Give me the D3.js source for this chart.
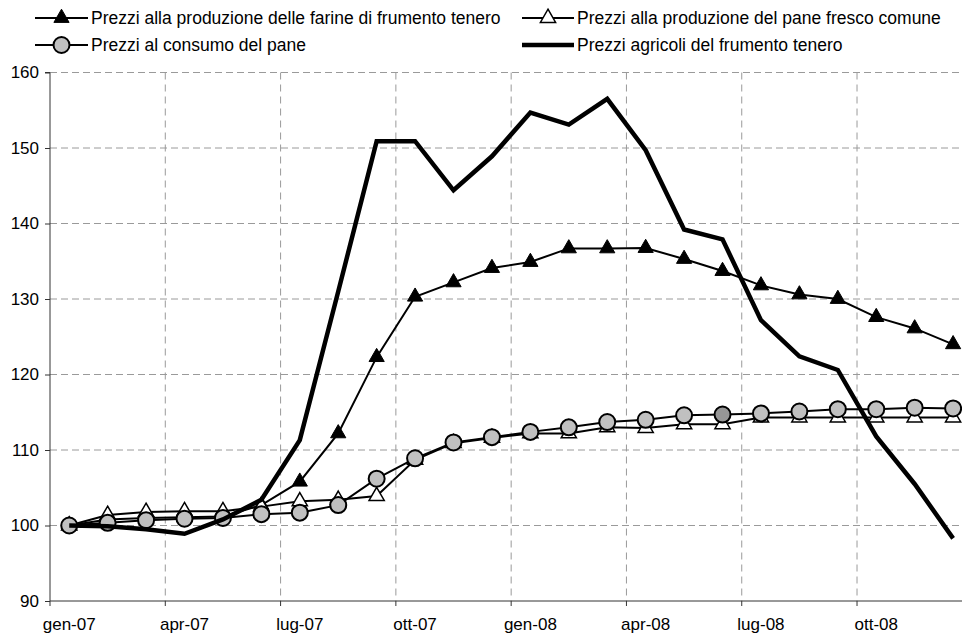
<!DOCTYPE html>
<html>
<head>
<meta charset="utf-8">
<script src="https://cdn.jsdelivr.net/npm/d3@7"></script>
<style>
  html, body { margin: 0; padding: 0; background: #fff; }
  svg { display: block; font-family: "Liberation Sans", Arial, sans-serif; }
</style>
</head>
<body>
<svg id="chart" width="962" height="633"></svg>
<script>
// ---- data ----
const months = ["gen-07","feb-07","mar-07","apr-07","mag-07","giu-07","lug-07","ago-07","set-07","ott-07","nov-07","dic-07",
                "gen-08","feb-08","mar-08","apr-08","mag-08","giu-08","lug-08","ago-08","set-08","ott-08","nov-08","dic-08"];
const tickLabels = ["gen-07","apr-07","lug-07","ott-07","gen-08","apr-08","lug-08","ott-08"];
const yTicks = [90, 100, 110, 120, 130, 140, 150, 160];

const seriesNames = [
  "Prezzi alla produzione delle farine di frumento tenero",
  "Prezzi alla produzione del pane fresco comune",
  "Prezzi al consumo del pane",
  "Prezzi agricoli del frumento tenero"
];
const farine = [100, 100.8, 101.0, 101.1, 101.2, 102.7, 105.8, 112.2, 122.3, 130.3, 132.2, 134.1,
                134.9, 136.7, 136.7, 136.75, 135.3, 133.7, 131.8, 130.6, 130.0, 127.6, 126.1, 124.0];
const paneProd = [100, 101.4, 101.8, 101.9, 101.9, 102.5, 103.2, 103.4, 103.9, 108.7, 110.9, 111.6,
                  112.2, 112.2, 113.0, 112.9, 113.4, 113.4, 114.3, 114.3, 114.3, 114.3, 114.3, 114.3];
const paneCons = [100, 100.35, 100.7, 100.9, 101.0, 101.5, 101.7, 102.7, 106.2, 108.9, 111.0, 111.7,
                  112.4, 113.0, 113.7, 114.0, 114.6, 114.7, 114.85, 115.1, 115.4, 115.4, 115.6, 115.5];
const frumento = [100, 99.9, 99.5, 98.9, 100.8, 103.4, 111.3, 131.0, 150.9, 150.9, 144.4, 148.9,
                  154.7, 153.1, 156.5, 149.7, 139.2, 137.9, 127.2, 122.4, 120.6, 111.8, 105.5, 98.3];
const highlightMonth = "giu-08";

// ---- layout ----
const svg = d3.select("#chart");
const plot = { left: 50, top: 72.5, bottom: 601 };
const catW = 38.43;
const x = d3.scaleBand().domain(months).range([plot.left, plot.left + catW * months.length]).padding(0);
const cx = m => x(m) + x.bandwidth() / 2;
const y = d3.scaleLinear().domain([90, 160]).range([plot.bottom, plot.top]);
const FONT = 17;
const LEGEND_FONT = 17.5;
const GRID = "#9a9a9a";

// gridlines horizontal
svg.append("g").selectAll("line").data(yTicks.filter(v => v > 90)).join("line")
  .attr("x1", plot.left).attr("x2", 962)
  .attr("y1", d => y(d)).attr("y2", d => y(d))
  .attr("stroke", GRID).attr("stroke-width", 1).attr("stroke-dasharray", "7,4");

// gridlines vertical at boundaries every 3 months
const boundaries = months.filter((m, i) => i % 3 === 0 && i > 0);
svg.append("g").selectAll("line").data(boundaries).join("line")
  .attr("x1", d => x(d)).attr("x2", d => x(d))
  .attr("y1", plot.top).attr("y2", plot.bottom)
  .attr("stroke", GRID).attr("stroke-width", 1).attr("stroke-dasharray", "7,5");

// y axis
const yAxis = d3.axisLeft(y).tickValues(yTicks).tickSize(5).tickPadding(6).tickFormat(d3.format("d"));
const gy = svg.append("g").attr("transform", `translate(${plot.left},0)`).call(yAxis);
gy.selectAll("text").attr("font-size", FONT).attr("fill", "#000").attr("font-family", "Liberation Sans, Arial, sans-serif");
gy.selectAll("line").attr("stroke", "#333");
gy.select(".domain").attr("stroke", "#333").attr("d", `M-5,${y(160)}H0V${plot.bottom}`);

// x axis (ticks at category boundaries, labels centered on categories)
const gx = svg.append("g");
gx.append("line").attr("x1", plot.left).attr("x2", 962).attr("y1", plot.bottom).attr("y2", plot.bottom)
  .attr("stroke", "#333");
gx.selectAll("line.tick").data(months.filter((m, i) => i % 3 === 0)).join("line").attr("class", "tick")
  .attr("x1", d => x(d)).attr("x2", d => x(d))
  .attr("y1", plot.bottom).attr("y2", plot.bottom + 5).attr("stroke", "#333");
gx.selectAll("text").data(tickLabels).join("text")
  .attr("x", d => cx(d)).attr("y", 630)
  .attr("text-anchor", "middle").attr("font-size", FONT).attr("fill", "#000")
  .text(d => d);

// ---- series ----
const line = d3.line().x((d, i) => cx(months[i])).y(d => y(d));
const triUp = d3.symbol().type(d3.symbolTriangle).size(100);
const R = 8;

// farine: filled triangles
svg.append("path").datum(farine).attr("d", line).attr("fill", "none").attr("stroke", "#000").attr("stroke-width", 2);
svg.append("g").selectAll("path").data(farine).join("path")
  .attr("d", triUp).attr("transform", (d, i) => `translate(${cx(months[i])},${y(d)})`)
  .attr("fill", "#000").attr("stroke", "#000").attr("stroke-width", 1);

// pane produzione: open triangles
svg.append("path").datum(paneProd).attr("d", line).attr("fill", "none").attr("stroke", "#000").attr("stroke-width", 2);
svg.append("g").selectAll("path").data(paneProd).join("path")
  .attr("d", triUp).attr("transform", (d, i) => `translate(${cx(months[i])},${y(d)})`)
  .attr("fill", "#fff").attr("stroke", "#000").attr("stroke-width", 1.5);

// pane consumo: grey circles
svg.append("path").datum(paneCons).attr("d", line).attr("fill", "none").attr("stroke", "#000").attr("stroke-width", 2);
svg.append("g").selectAll("circle").data(paneCons).join("circle")
  .attr("cx", (d, i) => cx(months[i])).attr("cy", d => y(d)).attr("r", R)
  .attr("fill", (d, i) => months[i] === highlightMonth ? "#969696" : "#c0c0c0")
  .attr("stroke", "#000").attr("stroke-width", 2);

// frumento: thick line
svg.append("path").datum(frumento).attr("d", line).attr("fill", "none").attr("stroke", "#000")
  .attr("stroke-width", 4.5).attr("stroke-linejoin", "miter");

// ---- legend ----
const legendItems = [
  { name: seriesNames[0], kind: "fill-tri", x0: 35, x1: 88, row: 0 },
  { name: seriesNames[1], kind: "open-tri", x0: 522, x1: 574, row: 0 },
  { name: seriesNames[2], kind: "circle", x0: 35, x1: 88, row: 1 },
  { name: seriesNames[3], kind: "thick", x0: 522, x1: 574, row: 1 }
];
const rowY = [18, 45];
const lg = svg.append("g");
legendItems.forEach(it => {
  const yy = rowY[it.row];
  const mid = (it.x0 + it.x1) / 2;
  lg.append("line").attr("x1", it.x0).attr("x2", it.x1).attr("y1", yy).attr("y2", yy)
    .attr("stroke", "#000").attr("stroke-width", it.kind === "thick" ? 4.5 : 2);
  if (it.kind === "fill-tri") {
    lg.append("path").attr("d", triUp).attr("transform", `translate(${mid},${yy})`).attr("fill", "#000").attr("stroke", "#000");
  } else if (it.kind === "open-tri") {
    lg.append("path").attr("d", triUp).attr("transform", `translate(${mid},${yy})`).attr("fill", "#fff").attr("stroke", "#000").attr("stroke-width", 1.5);
  } else if (it.kind === "circle") {
    lg.append("circle").attr("cx", mid).attr("cy", yy).attr("r", R).attr("fill", "#c0c0c0").attr("stroke", "#000").attr("stroke-width", 2);
  }
  lg.append("text").attr("x", it.x1 + 3).attr("y", yy + 6).attr("font-size", LEGEND_FONT).attr("fill", "#000").text(it.name);
});
</script>
</body>
</html>
